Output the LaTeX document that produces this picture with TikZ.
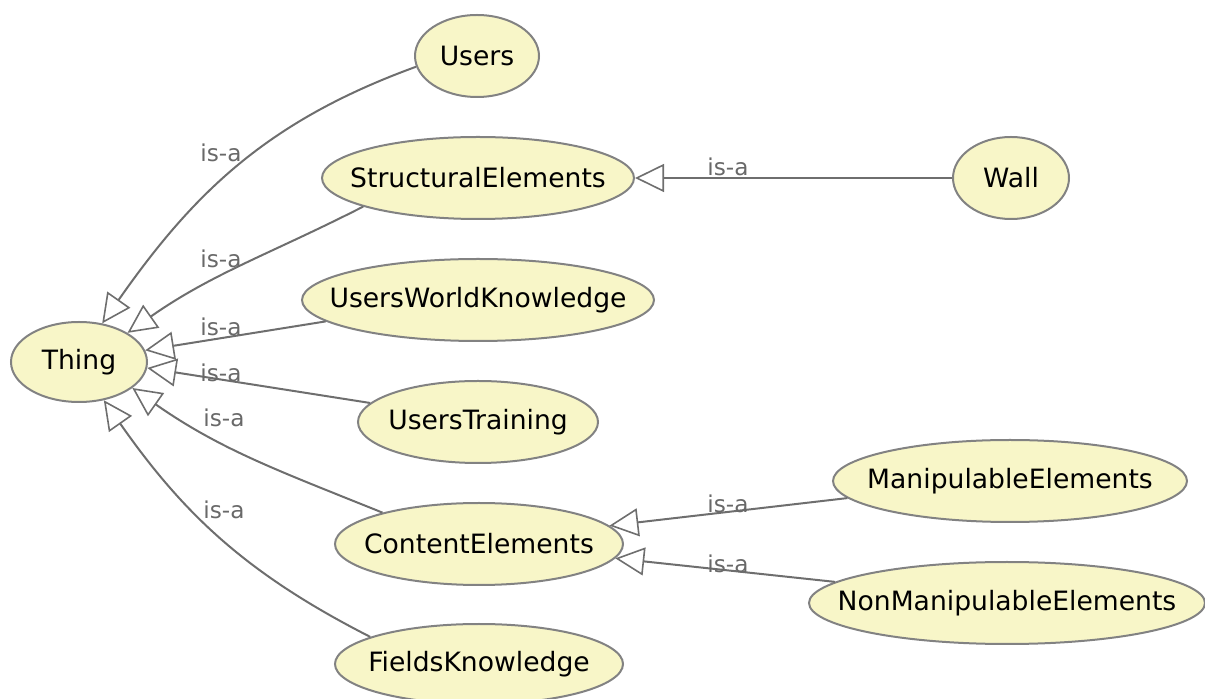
\documentclass[tikz,border=0pt]{standalone}
\usepackage{fontspec}
\setmainfont{DejaVu Sans}
\usetikzlibrary{shapes.geometric,arrows.meta}
\definecolor{clsfill}{RGB}{248,246,200}
\definecolor{clsdraw}{RGB}{130,130,130}
\definecolor{edgec}{RGB}{110,110,110}
\definecolor{lblc}{RGB}{105,105,105}
\newcommand{\cltext}[1]{\makebox[0pt]{#1}}
\tikzset{
  cls/.style={ellipse, draw=clsdraw, fill=clsfill, line width=1pt, inner sep=0pt,
    font=\fontsize{13.3pt}{15pt}\selectfont},
  isa/.style={draw=edgec, line width=1pt,
    -{Triangle[open, length=14.5pt, width=14pt, line width=0.8pt]}},
  lbl/.style={text=lblc, inner sep=0pt, font=\fontsize{11.6pt}{13pt}\selectfont}
}
\begin{document}
\begin{tikzpicture}[x=0.5pt, y=0.5pt]
\useasboundingbox (0,0) rectangle (1205,-699);
% nodes (minimum width = rx pt, minimum height = ry pt at this scale)
\node[cls, minimum width=68pt,  minimum height=40pt]  (thing)    at (79,-362)   {\cltext{Thing}};
\node[cls, minimum width=62pt,  minimum height=41pt]  (users)    at (477,-56)   {\cltext{Users}};
\node[cls, minimum width=156pt, minimum height=41pt]  (struct)   at (478,-178)  {\cltext{StructuralElements}};
\node[cls, minimum width=58pt,  minimum height=41pt]  (wall)     at (1011,-178) {\cltext{Wall}};
\node[cls, minimum width=176pt, minimum height=41pt]  (uwk)      at (478,-300)  {\cltext{UsersWorldKnowledge}};
\node[cls, minimum width=120pt, minimum height=41pt]  (ut)       at (478,-422)  {\cltext{UsersTraining}};
\node[cls, minimum width=144pt, minimum height=41pt]  (ce)       at (479,-544)  {\cltext{ContentElements}};
\node[cls, minimum width=177pt, minimum height=41pt]  (manip)    at (1010,-481) {\cltext{ManipulableElements}};
\node[cls, minimum width=198pt, minimum height=41pt]  (nonmanip) at (1007,-603) {\cltext{NonManipulableElements}};
\node[cls, minimum width=144pt, minimum height=40pt]  (fk)       at (479,-664)  {\cltext{FieldsKnowledge}};
% connectors
\draw[isa] (users.190) to[out=200, in=55] (thing.59);
\draw[isa] (struct.194) to[out=207, in=35] (thing.31);
\draw[isa] (uwk.188) -- (thing.10);
\draw[isa] (ut.170) -- (thing.-5);
\draw[isa] (ce.162) to[out=158, in=-35] (thing.-26);
\draw[isa] (fk.166) to[out=153, in=-55] (thing.-57);
\draw[isa] (wall.west) -- (struct.east);
\draw[isa] (manip.186) -- (ce.8);
\draw[isa] (nonmanip.173) -- (ce.-6);
% labels
\node[lbl] (l1) at (221,-153) {is-a};
\node[lbl] (l2) at (221,-259) {is-a};
\node[lbl] (l3) at (221,-327) {is-a};
\node[lbl] (l4) at (221,-373) {is-a};
\node[lbl] (l5) at (224,-418) {is-a};
\node[lbl] (l6) at (224,-510) {is-a};
\node[lbl] (l7) at (728,-167) {is-a};
\node[lbl] (l8) at (728,-504) {is-a};
\node[lbl] (l9) at (728,-564) {is-a};
\end{tikzpicture}
\end{document}
